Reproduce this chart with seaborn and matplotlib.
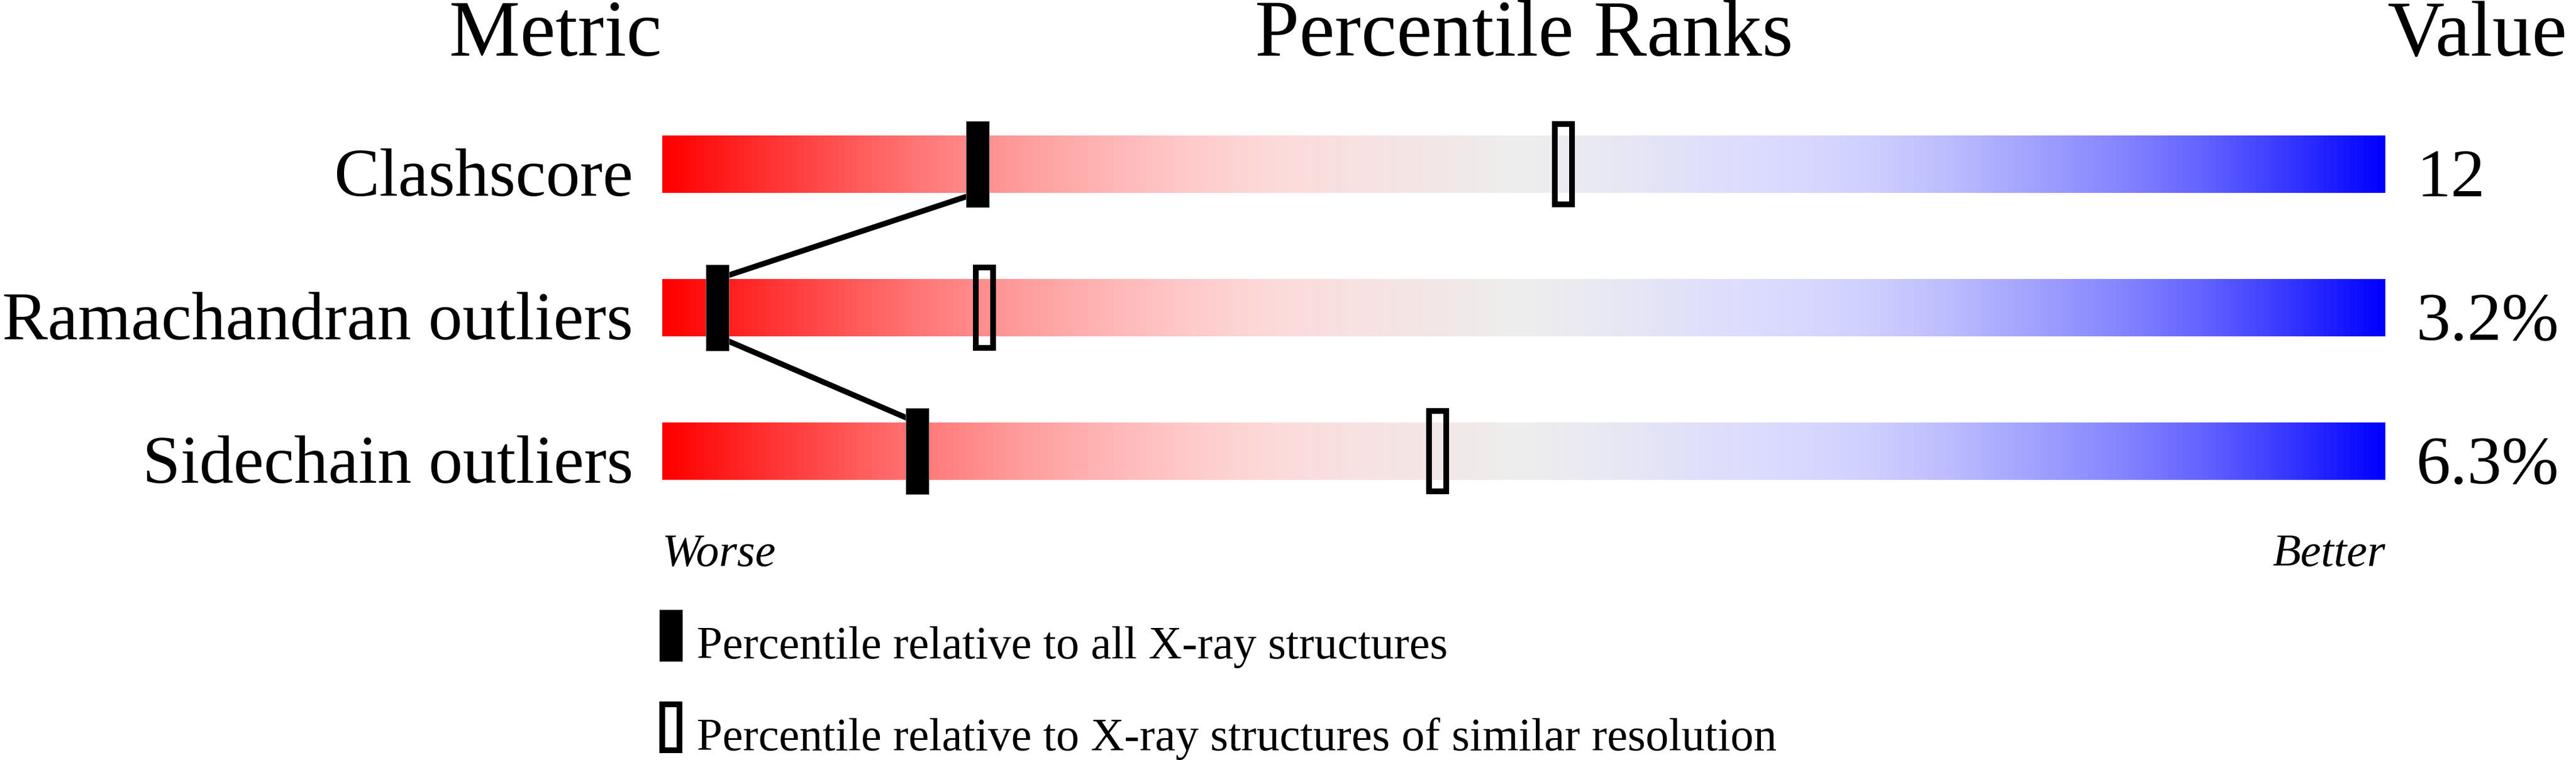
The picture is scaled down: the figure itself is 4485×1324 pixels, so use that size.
import numpy as np
import pandas as pd
import matplotlib
matplotlib.use("Agg")
import matplotlib.pyplot as plt
from matplotlib.colors import LinearSegmentedColormap
from matplotlib.patches import Rectangle
from matplotlib.transforms import blended_transform_factory
import seaborn as sns

# ---------------- data ----------------
metrics = ["Clashscore", "Ramachandran outliers", "Sidechain outliers"]
values = ["12", "3.2%", "6.3%"]
pct_all = [18.3, 3.2, 14.8]        # percentile relative to all X-ray structures
pct_res = [52.3, 18.7, 45.0]       # percentile relative to similar resolution
legend_labels = ["Percentile relative to all X-ray structures",
                 "Percentile relative to X-ray structures of similar resolution"]

# ---------------- style ----------------
sns.set_style("white")
plt.rcParams["font.family"] = ["Liberation Serif", "DejaVu Serif"]
plt.rcParams["text.color"] = "black"

W, H = 4485, 1324
fig = plt.figure(figsize=(W / 100, H / 100), dpi=100)
fig.patch.set_facecolor("white")

ax = fig.add_axes([1153 / W, (H - 911) / H, 3000 / W, 750 / H])

grad_stops = [
    (0.00, "#FF0000"), (0.05, "#FF2A2A"), (0.10, "#FF5252"), (0.15, "#FF7878"),
    (0.20, "#FF9898"), (0.25, "#FFB2B2"), (0.30, "#FFC8C8"), (0.35, "#FDD9D9"),
    (0.40, "#F8E1E1"), (0.45, "#F3E7E7"), (0.50, "#EEEEEE"), (0.55, "#E8E8F3"),
    (0.60, "#E0E0FA"), (0.65, "#DADAFF"), (0.70, "#D0D0FF"), (0.75, "#BBBBFF"),
    (0.80, "#A0A0FF"), (0.85, "#8484FF"), (0.90, "#6060FF"), (0.95, "#3333FF"),
    (1.00, "#0000FF"),
]
cmap = LinearSegmentedColormap.from_list("slider", grad_stops)

rows = np.arange(len(metrics))
bar_h = 0.4
grad = np.linspace(0, 1, 600).reshape(1, -1)
for r in rows:
    ax.imshow(grad, cmap=cmap, aspect="auto", interpolation="bilinear",
              extent=(0, 100, r + bar_h / 2, r - bar_h / 2), zorder=1)

# connecting line (edge of bar to edge of next bar, through the black markers)
line_x, line_y = [], []
for i, (p, r) in enumerate(zip(pct_all, rows)):
    if i > 0:
        line_x.append(p); line_y.append(r - bar_h / 2)
    if i < len(rows) - 1:
        line_x.append(p); line_y.append(r + bar_h / 2)
line_df = pd.DataFrame({"x": line_x, "y": line_y})
sns.lineplot(data=line_df, x="x", y="y", sort=False, estimator=None,
             color="black", linewidth=7.0, ax=ax, legend=False)
for ln in ax.lines:
    ln.set_linewidth(7.0)
    ln.set_zorder(2)
    ln.set_solid_capstyle("butt")

# black markers (all X-ray structures)
ax.bar(pct_all, height=0.6, width=40 / 30, bottom=rows - 0.3,
       color="black", edgecolor="#777777", linewidth=0.7, zorder=3)
# open markers (similar resolution)
ax.bar(pct_res, height=0.56, width=1.0, bottom=rows - 0.28,
       fill=False, edgecolor="black", linewidth=7.2, zorder=3,
       joinstyle="miter")

ax.set_xlim(0, 100)
ax.set_ylim(2.5, -0.5)
ax.axis("off")

# row labels and values
tr = blended_transform_factory(ax.transAxes, ax.transData)
for r, m, v in zip(rows, metrics, values):
    ax.text(-0.017, r + 0.222, m, transform=tr, ha="right", va="baseline",
            fontsize=85.5, color="black")
    ax.text(1.018, r + 0.222, v, transform=tr, ha="left", va="baseline",
            fontsize=86, color="black")

# worse / better
ax.text(0.0, 2.8, "Worse", transform=tr, ha="left", va="baseline",
        fontsize=58, style="italic", color="black")
ax.text(1.0, 2.8, "Better", transform=tr, ha="right", va="baseline",
        fontsize=58, style="italic", color="black")

# headers
hy = 1 - 97 / H
fig.text(1152 / W, hy, "Metric", ha="right", va="baseline", fontsize=100, color="black")
fig.text(2653 / W, hy, "Percentile Ranks", ha="center", va="baseline", fontsize=100, color="black")
fig.text(4156 / W, hy, "Value", ha="left", va="baseline", fontsize=99, color="black")

# legend
def px_rect(x0, y0, w, h, **kw):
    fig.add_artist(Rectangle((x0 / W, 1 - (y0 + h) / H), w / W, h / H,
                             transform=fig.transFigure, **kw))

px_rect(1148, 1062, 40, 90, facecolor="black", edgecolor="#777777", linewidth=0.7)
px_rect(1153, 1227, 30, 80, facecolor="none", edgecolor="black", linewidth=7.2,
        joinstyle="miter")
fig.text(1213 / W, 1 - 1147 / H, legend_labels[0], ha="left", va="baseline",
         fontsize=58, color="black")
fig.text(1213 / W, 1 - 1307 / H, legend_labels[1], ha="left", va="baseline",
         fontsize=58, color="black")

fig.savefig("out.png", dpi=100, facecolor="white")
